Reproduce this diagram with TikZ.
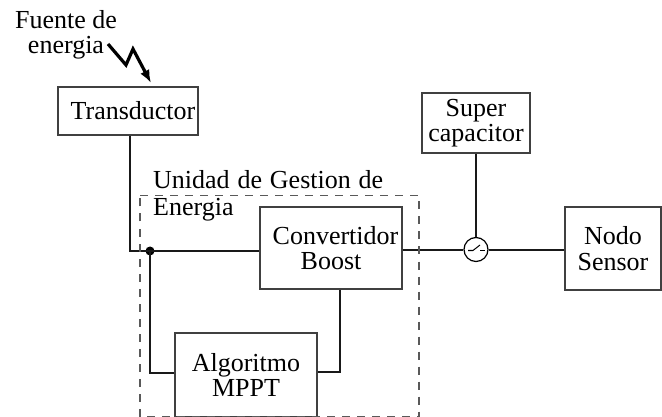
\documentclass[tikz,border=0pt]{standalone}
\usepackage{fontspec}
\usetikzlibrary{arrows.meta}
\setmainfont{Liberation Serif}
\tikzset{
  blockbox/.style={draw=black!75,line width=1.2pt,inner sep=0pt,align=center,font=\fontsize{26}{25.5}\selectfont},
  plainlabel/.style={inner sep=0pt,align=center,font=\fontsize{26}{25}\selectfont},
  wire/.style={line width=2.7pt,black!90},
  zone/.style={draw=black!65,line width=1.1pt,dash pattern=on 8pt off 7pt},
}
\begin{document}
\begin{tikzpicture}[x=1pt,y=-1pt]
\useasboundingbox (0,0) rectangle (662,417);
\node[plainlabel,anchor=center] (fuente) at (66,35) {Fuente de\\energia};
\node[blockbox,minimum width=140pt,minimum height=48pt] (trans) at (128,111) {\hspace*{10pt}Transductor};
\node[blockbox,minimum width=142pt,minimum height=82pt] (conv) at (331,248) {\hspace*{9pt}Convertidor\\Boost};
\node[blockbox,minimum width=142pt,minimum height=84pt] (mppt) at (246,375) {Algoritmo\\MPPT};
\node[blockbox,minimum width=108pt,minimum height=60pt] (cap) at (476,123) {\raisebox{-2pt}{Super}\\\raisebox{-2pt}{capacitor}};
\node[blockbox,minimum width=96pt,minimum height=83pt] (sensor) at (613,248.5) {\raisebox{-1.5pt}{Nodo}\\\raisebox{-1.5pt}{Sensor}};
\node[circle,draw=black,line width=1.2pt,minimum size=24pt,inner sep=0pt] (sw) at (476,249.5) {};
\fill[black] (150,251) circle (4.5pt) coordinate (junction);
\coordinate (lightA) at (108,44);
\coordinate (lightB) at (126,65);
\coordinate (lightC) at (133,49);
\coordinate (lightD) at (151,83);
\draw[line width=3.2pt,line join=miter,-{Latex[length=13pt,width=10pt]}] (lightA) -- (lightB) -- (lightC) -- (lightD);
\draw[wire] (trans.south -| 130,135) -- (130,251) -- (junction);
\draw[wire] (junction) -- (conv.west |- junction);
\draw[wire] (junction) -- (150,373) -- (mppt.west |- 0,373);
\draw[wire] (conv.south -| 340,0) -- (340,372) -- (mppt.east |- 0,372);
\draw[wire] (conv.east |- 0,250) -- (sw.west |- 0,250);
\draw[wire] (sw.east |- 0,250) -- (sensor.west |- 0,250);
\draw[wire] (cap.south) -- (sw.north);
\draw[line width=1pt] (468,250.5) -- (473,250.5) -- (480,245);
\draw[line width=1pt] (480,250.5) -- (485,250.5);
\draw[zone] (140,195.5) -- (419,195.5) -- (419,417) -- (140,417) -- cycle;
\node[plainlabel,anchor=base west] (unidad) at (153,189) {\hbox to 230pt{Unidad\hfill de\hfill Gestion\hfill de}};
\node[plainlabel,anchor=base west] (energia) at (153,215) {Energia};
\end{tikzpicture}
\end{document}
